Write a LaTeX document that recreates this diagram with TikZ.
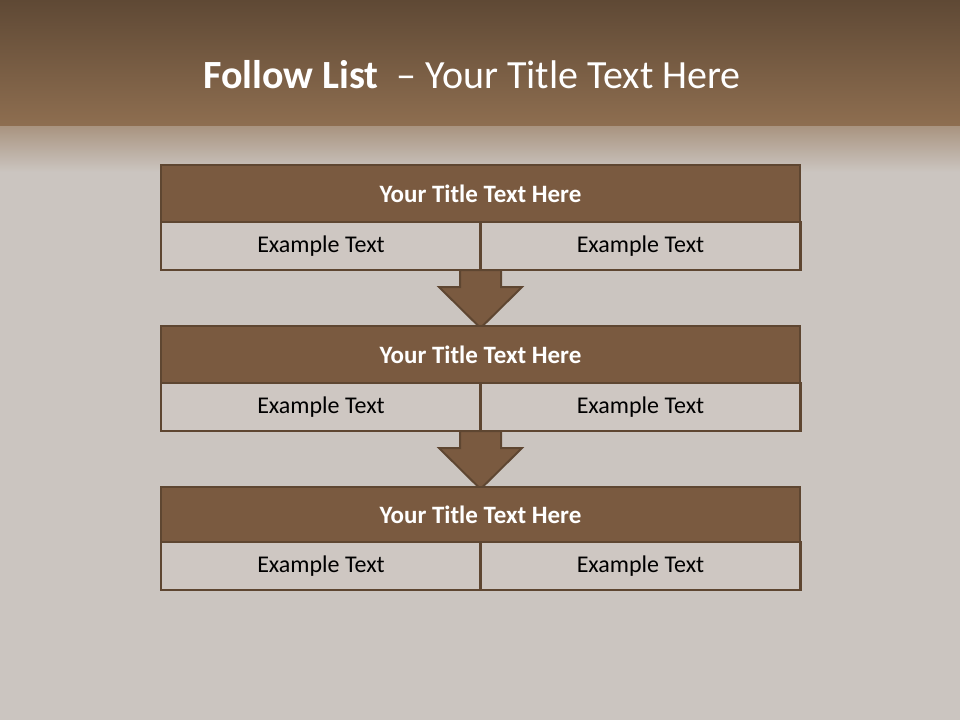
\documentclass[tikz,border=0pt]{standalone}
\usepackage{fontspec}
\setmainfont{Carlito}
\usetikzlibrary{calc}
\definecolor{bandtop}{HTML}{5F4935}
\definecolor{bandbot}{HTML}{8E6E50}
\definecolor{bgrey}{HTML}{CBC5C0}
\definecolor{fadetop}{HTML}{A99480}
\definecolor{titlefill}{HTML}{7A5A40}
\definecolor{edge}{HTML}{5E4631}
\definecolor{cellfill}{HTML}{CEC7C2}
\tikzset{
  titlebox/.style={draw=edge, line width=2.8pt, fill=titlefill, minimum width=639pt, inner sep=0pt, outer sep=0pt,
    text=white, font=\fontsize{25}{29}\selectfont\bfseries},
  cellbox/.style={draw=edge, line width=2.8pt, fill=cellfill, minimum width=320pt, minimum height=48pt, inner sep=0pt, outer sep=0pt,
    text=black, font=\fontsize{24}{28}\selectfont},
  blockarrow/.style={draw=edge, line width=2pt, fill=titlefill, line join=miter},
}
\begin{document}
\begin{tikzpicture}[x=1pt,y=-1pt]
\useasboundingbox (0,0) rectangle (960,720);
\fill[bgrey] (0,0) rectangle (960,720);
\shade[top color=bandtop, bottom color=bandbot] (0,0) rectangle (960,126);
\shade[top color=fadetop, bottom color=bgrey] (0,126) rectangle (960,172);
\node[text=white, font=\fontsize{40}{46}\selectfont, anchor=base] (title) at (472,88) {\textbf{Follow List}\ \ – Your Title Text Here};

% arrows (drawn first, boxes overlay)
\coordinate (arr1) at (480.5,270);
\coordinate (arr2) at (480.5,431);
\foreach \a/\t in {arr1/328, arr2/489}{
  \path[blockarrow] ($(\a)+(-20.5,0)$) -- ++(0,17) -- ++(-21,0) -- (480.5,\t) -- ($(\a)+(41.5,17)$) -- ++(-21,0) -- ++(0,-17) -- cycle;
}

% row 1
\node[titlebox, minimum height=57pt] (t1) at (480.5,193.5) {Your Title Text Here};
\node[cellbox] (a1) at (321,246) {Example Text};
\node[cellbox] (b1) at (640.5,246) {Example Text};
% row 2
\node[titlebox, minimum height=57pt] (t2) at (480.5,354.5) {Your Title Text Here};
\node[cellbox] (a2) at (321,407) {Example Text};
\node[cellbox] (b2) at (640.5,407) {Example Text};
% row 3
\node[titlebox, minimum height=55pt] (t3) at (480.5,514.5) {Your Title Text Here};
\node[cellbox] (a3) at (321,566) {Example Text};
\node[cellbox] (b3) at (640.5,566) {Example Text};
\end{tikzpicture}
\end{document}
